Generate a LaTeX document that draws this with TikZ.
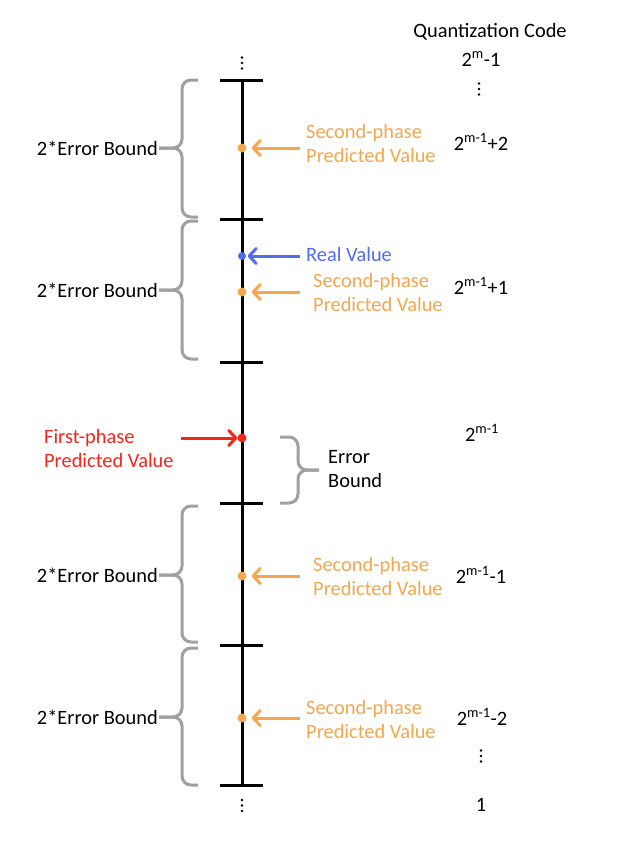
\documentclass[tikz,border=0pt]{standalone}
\usepackage{fontspec}
\setmainfont{Carlito}
\usetikzlibrary{arrows.meta}

\definecolor{phaseorange}{RGB}{245,166,78}
\definecolor{realblue}{RGB}{82,108,240}
\definecolor{firstred}{RGB}{242,38,26}
\definecolor{bracegray}{RGB}{160,160,160}

\tikzset{
  axistick/.style={line width=3pt},
  valdot/.style={circle,fill=#1,inner sep=0pt,minimum size=9pt},
  lbl/.style={inner sep=0pt,align=left},
  bound/.style={draw=bracegray,line width=3pt,rounded corners=9pt},
  pointer/.style={line width=3pt,-{Straight Barb[length=7pt,width=15pt,round]}},
}

\begin{document}
\begin{tikzpicture}[x=1pt,y=-1pt,font=\fontsize{20.4}{24}\selectfont]
    \useasboundingbox (0,0) rectangle (618,846);

    % axis and ticks
    \draw[line width=3pt] (242,80) -- (242,785);
    \draw[axistick] (220,80) -- (263,80);
    \draw[axistick] (220,219) -- (263,219);
    \draw[axistick] (220,362) -- (263,362);
    \draw[axistick] (220,503) -- (263,503);
    \draw[axistick] (220,645) -- (263,645);
    \draw[axistick] (220,785) -- (263,785);

    % dots (vertical ellipsis)
    \foreach \d in {0,5.5,11} {
        \fill (242,{57.5+\d}) circle (1.4pt);
        \fill (242,{800+\d}) circle (1.4pt);
        \fill (479,{83.5+\d}) circle (1.4pt);
        \fill (481,{750.5+\d}) circle (1.4pt);
    }

    % values on the axis
    \node[valdot=phaseorange] (sp1dot) at (242,148) {};
    \node[valdot=realblue, minimum size=8pt] (realdot) at (242,256) {};
    \node[valdot=phaseorange] (sp2dot) at (242,292) {};
    \node[valdot=firstred] (fpdot) at (242,438) {};
    \node[valdot=phaseorange] (sp3dot) at (242,576) {};
    \node[valdot=phaseorange] (sp4dot) at (242,718) {};

    % labels right of the axis
    \node[lbl, anchor=west, text=phaseorange] (sp1) at (306,143) {Second-phase\\Predicted Value};
    \node[lbl, anchor=west, text=realblue] (real) at (306,254) {Real Value};
    \node[lbl, anchor=west, text=phaseorange] (sp2) at (313,292.5) {Second-phase\\Predicted Value};
    \node[lbl, anchor=west, text=phaseorange] (sp3) at (313,576.5) {Second-phase\\Predicted Value};
    \node[lbl, anchor=west, text=phaseorange] (sp4) at (306,719) {Second-phase\\Predicted Value};
    \node[lbl, anchor=west, text=firstred] (fp) at (44,448.5) {First-phase\\Predicted Value};

    % arrows
    \draw[pointer, phaseorange, shorten <=6pt, shorten >=5pt] (sp1dot -| sp1.west) -- (sp1dot);
    \draw[pointer, realblue, shorten <=6pt, shorten >=1.5pt] (realdot -| real.west) -- (realdot);
    \draw[pointer, phaseorange, shorten <=13pt, shorten >=5pt] (sp2dot -| sp2.west) -- (sp2dot);
    \draw[pointer, firstred, shorten <=7pt] (fpdot -| fp.east) -- (fpdot);
    \draw[pointer, phaseorange, shorten <=13pt, shorten >=5pt] (sp3dot -| sp3.west) -- (sp3dot);
    \draw[pointer, phaseorange, shorten <=6pt, shorten >=5pt] (sp4dot -| sp4.west) -- (sp4dot);

    % braces
    \draw[bound] (198,80) -- (182,80) -- (182,148) -- (159,148);
    \draw[bound] (198,217) -- (182,217) -- (182,148) -- (159,148);
    \draw[bound] (198,221) -- (182,221) -- (182,290) -- (159,290);
    \draw[bound] (198,359) -- (182,359) -- (182,290) -- (159,290);
    \draw[bound] (198,506) -- (182,506) -- (182,575) -- (159,575);
    \draw[bound] (198,642) -- (182,642) -- (182,575) -- (159,575);
    \draw[bound] (198,648) -- (182,648) -- (182,717) -- (159,717);
    \draw[bound] (198,785) -- (182,785) -- (182,717) -- (159,717);
    \draw[bound] (280,437) -- (298,437) -- (298,470) -- (319,470);
    \draw[bound] (280,503) -- (298,503) -- (298,470) -- (319,470);

    \node[lbl, anchor=east] (eb1) at (158,148) {2*Error Bound};
    \node[lbl, anchor=east] (eb2) at (158,290) {2*Error Bound};
    \node[lbl, anchor=east] (eb3) at (158,575) {2*Error Bound};
    \node[lbl, anchor=east] (eb4) at (158,717) {2*Error Bound};
    \node[lbl, anchor=west] (eb) at (328,469) {Error\\Bound};

    % quantization codes
    \node[lbl] (qc) at (490,32) {Quantization Code};
    \node[lbl] (qtop) at (481,59) {2\textsuperscript{m}-1};
    \node[lbl] (qp2) at (481,142) {2\textsuperscript{m-1}+2};
    \node[lbl] (qp1) at (481,286) {2\textsuperscript{m-1}+1};
    \node[lbl] (qmid) at (482,433) {2\textsuperscript{m-1}};
    \node[lbl] (qm1) at (481,575) {2\textsuperscript{m-1}-1};
    \node[lbl] (qm2) at (482,717) {2\textsuperscript{m-1}-2};
    \node[lbl] (qone) at (481,805) {1};
\end{tikzpicture}
\end{document}
